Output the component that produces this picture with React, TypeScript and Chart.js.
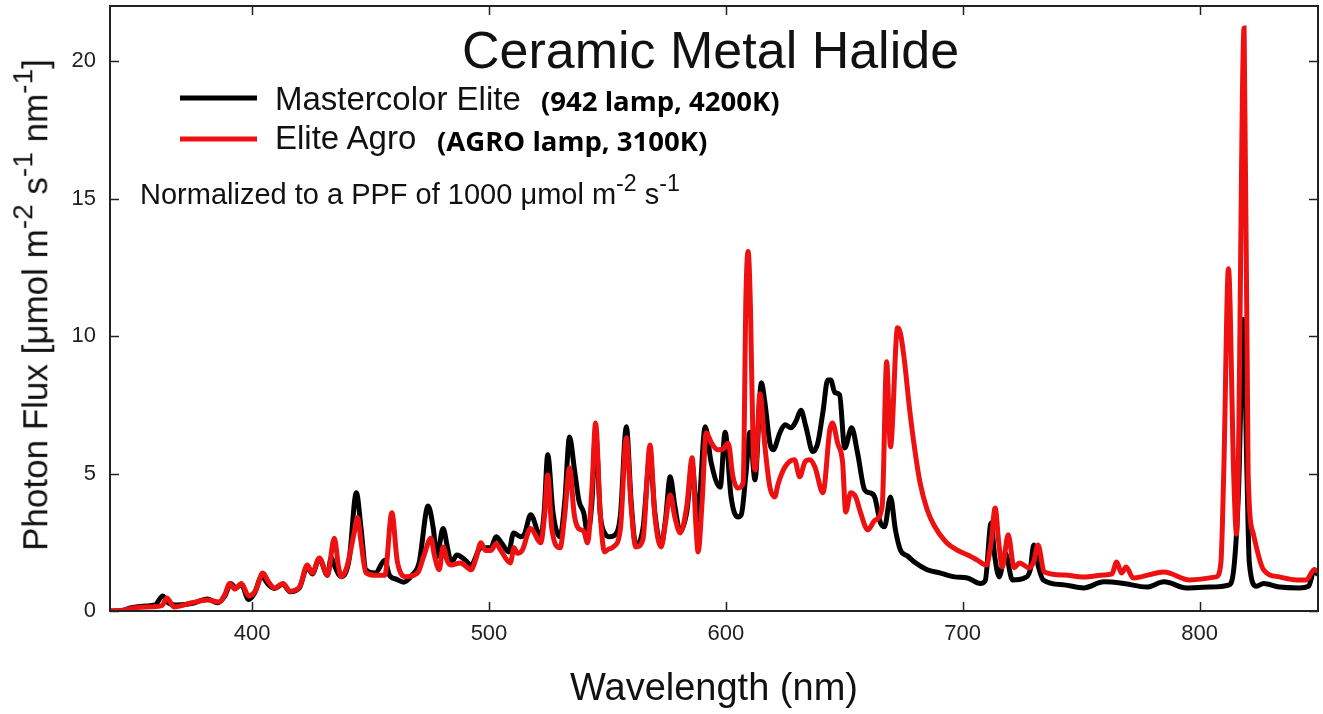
import React, { useEffect, useRef } from "react";
import { Chart, registerables } from "chart.js";

Chart.register(...registerables);

// ---------- DATA ----------
const chartTitle = "Ceramic Metal Halide";
const seriesNames = ["Mastercolor Elite", "Elite Agro"];
const seriesNotes = ["(942 lamp, 4200K)", "(AGRO lamp, 3100K)"];
const xAxisTitle = "Wavelength (nm)";
const yAxisTitleParts = ["Photon Flux [\u03bcmol m", "-2", " s", "-1", " nm", "-1", "]"];
const xTickValues = [400, 500, 600, 700, 800];
const yTickValues = [0, 5, 10, 15, 20];
const xRange = [340, 850];
const yRange = [0, 22];

// Mastercolor Elite (black)
const blackWl = [
  340, 345, 349, 355, 359, 362.3, 364.5, 368.6, 375, 381, 385.5, 388.5, 391, 393, 395.5, 398.5,
  401, 404, 407, 409.5, 413, 416, 420, 423.3, 425.4, 428.4, 431.8, 433.4, 435, 437.6, 441, 444,
  446, 448, 452, 456, 458, 461, 464, 467.5, 470.5, 474.3, 476.5, 478, 480.6, 482.5, 484, 486.5,
  490, 492.4, 496.6, 500.8, 503, 505.5, 508.3, 510.4, 513.4, 515, 517.6, 521.8, 523.3, 524.8,
  527, 530, 532, 534, 536, 538, 540, 541.6, 543.5, 545, 547, 548.8, 551, 553, 555.5, 558, 560,
  562, 565, 568, 570, 572.7, 574.5, 576.5, 578.5, 580.7, 583.5, 585.8, 588, 591.3, 593.8, 597.6,
  599.7, 602.2, 605, 606.5, 608.5, 610.2, 612.3, 615, 616.5, 618.6, 620, 622.8, 625, 627.5,
  629.6, 631.7, 633.8, 636.7, 638.8, 641, 643, 644.3, 646, 648, 650.2, 653.1, 655.6, 658.6,
  660.7, 662.8, 665.3, 667, 669.5, 671.6, 673.7, 676.7, 679.6, 685, 690.6, 696.5, 702, 707.4,
  709.5, 712, 713.5, 715.4, 718, 721, 726, 728.5, 730, 732, 734, 742.8, 751, 759.6, 768, 777.7,
  785, 794.5, 804, 812.6, 814.7, 816.5, 818.5, 820, 821, 824, 827, 833.7, 842, 846, 848.5, 850,
];
const blackVal = [
  0.0, 0.02, 0.12, 0.18, 0.22, 0.55, 0.3, 0.22, 0.28, 0.44, 0.3, 0.55, 1.0, 0.85, 0.95, 0.42,
  0.65, 1.25, 0.95, 0.82, 0.98, 0.7, 0.85, 1.6, 1.35, 1.9, 1.3, 1.95, 1.6, 1.25, 1.9, 4.3,
  3.0, 1.5, 1.38, 1.85, 1.3, 1.15, 1.05, 1.3, 1.75, 3.82, 3.0, 1.97, 3.0, 2.3, 1.75, 2.04,
  1.85, 1.67, 2.3, 2.3, 2.7, 2.45, 2.15, 2.84, 2.7, 2.8, 3.5, 2.7, 3.6, 5.68,
  3.6, 2.7, 4.0, 6.33, 5.2, 4.0, 3.57, 2.84, 4.0, 6.5, 3.5, 2.84, 2.7, 2.75, 3.5, 6.7, 4.0,
  2.4, 3.0, 5.6, 3.6, 2.4, 3.3, 4.88, 3.8, 2.9, 3.6, 5.3, 3.3, 6.7, 5.4, 4.5,
  6.5, 4.15, 3.42, 3.5, 5.0, 6.5, 4.77, 8.3, 7.57, 6.1, 5.86, 6.48, 6.77, 6.66,
  6.9, 7.3, 6.7, 5.8, 6.1, 7.24, 8.4, 8.4, 7.94, 7.86, 5.93, 6.66, 5.75, 4.4,
  4.3, 4.15, 3.2, 3.06, 4.15, 2.95, 2.22, 2.0, 1.78, 1.5, 1.38, 1.24, 1.2, 1.0,
  1.1, 3.2, 2.0, 1.24, 2.1, 1.13, 1.2, 1.5, 2.4, 1.6, 1.13, 0.95, 0.84, 1.06, 1.0, 0.87,
  1.06, 0.84, 0.87, 0.95, 1.75, 4.5, 10.6, 5.0, 1.75, 0.9, 1.0, 0.87, 0.84, 0.9, 1.5, 1.3,
];

// Elite Agro (red)
const redWl = [
  340, 346, 350.5, 358, 362, 364, 367, 374.5, 381.2, 386, 388.5, 390.5, 392.8, 395.5, 398.5,
  401.5, 404.5, 407, 409.5, 413, 416, 420, 423.3, 425.4, 428.4, 431.8, 434.7, 436.5, 437.6, 440,
  443, 444.5, 446, 448, 452, 456, 459, 461.3, 465, 470, 472.5, 475.5, 477, 479, 480.6, 482.5,
  484, 488, 492.4, 494.5, 496.6, 498.5, 500.8, 503, 505, 509, 510.6, 512, 514, 517.6, 521.8,
  523.5, 524.8, 526.5, 530, 532, 534, 536, 537.8, 540, 541.6, 543.5, 545, 547, 548.8, 550.5,
  552.5, 555.5, 558, 560, 562, 565, 568, 570, 572.7, 574.5, 576.5, 578.5, 580.7, 583.5, 585.8,
  587.3, 588.3, 590, 591.7, 594, 596.7, 599, 601, 603, 605, 607.3, 608.5, 609.4, 610.4, 611.5,
  612.5, 614.4, 616.5, 618.6, 620.7, 622, 625, 629, 631.2, 633.4, 635.4, 637.6, 641, 643.9, 645,
  647.2, 649.3, 650.6, 652.7, 654.8, 656.9, 659.9, 663, 666, 667.9, 669.5, 672.5, 673.7, 675.4,
  677.5, 679.6, 682, 685, 688, 693, 698, 703, 706, 710, 712, 713.7, 715.2, 716.7, 719.2, 721.7,
  724, 728, 730, 731.8, 734.4, 742.8, 751, 759.6, 763, 765, 767, 769, 772, 785, 795.8, 807,
  809, 810.2, 812.2, 814.4, 815.6, 816.3, 818.8, 820.5, 822.7, 827, 833.7, 841, 845, 848.4, 850,
];
const redVal = [
  0.0, 0.03, 0.12, 0.15, 0.2, 0.47, 0.15, 0.3, 0.4, 0.33, 0.6, 1.0, 0.8, 1.0, 0.55,
  0.75, 1.38, 1.05, 0.84, 1.0, 0.72, 0.87, 1.67, 1.38, 1.93, 1.3, 2.65, 1.6, 1.25, 1.6,
  2.8, 3.4, 2.5, 1.4, 1.3, 1.3, 3.57, 1.8, 1.25, 1.4, 2.0, 2.65, 2.0, 1.5, 2.33, 1.8,
  1.67, 1.75, 1.5, 1.9, 2.48, 2.2, 2.2, 2.45, 2.2, 1.75, 2.3, 2.1, 2.2, 3.0, 2.48,
  3.5, 4.95, 3.0, 2.3, 3.5, 5.2, 3.5, 3.0, 2.9, 2.48, 4.5, 6.84, 3.5, 2.15, 2.25,
  2.33, 3.0, 6.3, 3.8, 2.33, 2.6, 6.04, 3.5, 2.33, 3.2, 4.22, 3.4, 2.84, 3.8, 5.57,
  3.2, 2.15, 4.0, 6.48, 6.1, 5.86, 5.9, 6.1, 4.88, 4.47, 4.66, 11.5, 13.07, 11.0, 6.0,
  5.13, 7.9, 5.97, 4.5, 4.15, 4.6, 5.24, 5.5, 4.88, 5.42, 5.5, 5.24, 4.3, 6.6, 6.84,
  6.1, 5.4, 3.6, 4.3, 4.15, 3.57, 2.95, 3.3, 3.8, 9.06, 5.97, 10.3, 10.1, 9.1,
  7.4, 5.97, 4.66, 3.68, 3.1, 2.5, 2.2, 2.0, 1.86, 1.67, 2.5, 3.75, 2.5, 1.6, 2.77, 1.57,
  1.75, 1.57, 1.8, 2.4, 1.42, 1.31, 1.24, 1.31, 1.35, 1.78, 1.38, 1.6, 1.2, 1.42, 1.13, 1.24,
  1.75, 5.0, 12.45, 5.0, 2.8, 5.0, 21.2, 5.0, 2.8, 1.5, 1.24, 1.13, 1.13, 1.5, 1.45,
];

const BLACK = "#000000";
const RED = "#ee1111";
const AXIS = "#222222";

const toPoints = (xs: number[], ys: number[]) => xs.map((x, i) => ({ x, y: ys[i] }));

const framePlugin = {
  id: "frame",
  afterDatasetsDraw(chart: any) {
    const { ctx, chartArea: a, scales } = chart;
    ctx.save();
    ctx.strokeStyle = AXIS;
    ctx.lineWidth = 2;
    ctx.strokeRect(a.left, a.top, a.right - a.left, a.bottom - a.top);
    const L = 9;
    ctx.lineWidth = 1.5;
    ctx.beginPath();
    scales.x.ticks.forEach((t: any) => {
      const px = Math.round(scales.x.getPixelForValue(t.value)) + 0.5;
      ctx.moveTo(px, a.bottom);
      ctx.lineTo(px, a.bottom - L);
      ctx.moveTo(px, a.top);
      ctx.lineTo(px, a.top + L);
    });
    scales.y.ticks.forEach((t: any) => {
      const py = Math.round(scales.y.getPixelForValue(t.value)) + 0.5;
      ctx.moveTo(a.left, py);
      ctx.lineTo(a.left + L, py);
      ctx.moveTo(a.right, py);
      ctx.lineTo(a.right - L, py);
    });
    ctx.stroke();
    // legend swatches
    ctx.lineWidth = 5;
    ctx.lineCap = "butt";
    ctx.strokeStyle = BLACK;
    ctx.beginPath();
    ctx.moveTo(180, 98);
    ctx.lineTo(257, 98);
    ctx.stroke();
    ctx.strokeStyle = RED;
    ctx.beginPath();
    ctx.moveTo(180, 139);
    ctx.lineTo(257, 139);
    ctx.stroke();
    ctx.restore();
  },
};

export default function App() {
  const canvasRef = useRef<HTMLCanvasElement | null>(null);

  useEffect(() => {
    if (!canvasRef.current) return;
    const chart = new Chart(canvasRef.current, {
      type: "line",
      data: {
        datasets: [
          {
            label: seriesNames[1],
            data: toPoints(redWl, redVal),
            borderColor: RED,
            borderWidth: 5,
            pointRadius: 0,
            cubicInterpolationMode: "monotone",
            order: 0,
          },
          {
            label: seriesNames[0],
            data: toPoints(blackWl, blackVal),
            borderColor: BLACK,
            borderWidth: 5,
            pointRadius: 0,
            cubicInterpolationMode: "monotone",
            order: 1,
          },
        ],
      },
      options: {
        animation: false,
        responsive: false,
        parsing: false as any,
        layout: { padding: { left: 0, top: 6, right: 5, bottom: 0 } },
        plugins: { legend: { display: false }, tooltip: { enabled: false } },
        scales: {
          x: {
            type: "linear",
            min: xRange[0],
            max: xRange[1],
            afterBuildTicks: (s: any) => {
              s.ticks = xTickValues.map((v) => ({ value: v }));
            },
            afterFit: (s: any) => {
              s.height = 103;
              s.paddingLeft = 0;
              s.paddingRight = 0;
            },
            grid: { display: false, drawTicks: false },
            border: { display: false },
            ticks: {
              padding: 10,
              color: AXIS,
              font: { family: "'Liberation Sans', Arial, sans-serif", size: 22 },
              maxRotation: 0,
            },
            title: {
              display: true,
              text: xAxisTitle,
              color: "#111",
              font: { family: "'Liberation Sans', Arial, sans-serif", size: 38 },
              padding: { top: 0, bottom: 2 },
            },
          },
          y: {
            type: "linear",
            min: yRange[0],
            max: yRange[1],
            afterBuildTicks: (s: any) => {
              s.ticks = yTickValues.map((v) => ({ value: v }));
            },
            afterFit: (s: any) => {
              s.width = 110;
              s.paddingTop = 0;
              s.paddingBottom = 0;
            },
            grid: { display: false, drawTicks: false },
            border: { display: false },
            ticks: {
              padding: 14,
              color: AXIS,
              font: { family: "'Liberation Sans', Arial, sans-serif", size: 22 },
            },
            title: { display: false },
          },
        },
      },
      plugins: [framePlugin],
    });
    return () => chart.destroy();
  }, []);

  const sans = "'Liberation Sans', Arial, sans-serif";
  const bold = "'Open Sans', sans-serif";
  const abs = (extra: React.CSSProperties): React.CSSProperties => ({
    position: "absolute",
    whiteSpace: "nowrap",
    lineHeight: 1,
    color: "#111",
    ...extra,
  });
  const sup: React.CSSProperties = { fontSize: "0.8em", verticalAlign: "0.55em" };

  return (
    <div style={{ position: "fixed", left: 0, top: 0, width: 1323, height: 714, background: "#fff" }}>
      <canvas ref={canvasRef} width={1323} height={714} style={{ display: "block" }} />
      <div style={abs({ left: 462, top: 24, fontFamily: sans, fontSize: 52 })}>{chartTitle}</div>
      <div style={abs({ left: 275, top: 82, fontFamily: sans, fontSize: 33 })}>{seriesNames[0]}</div>
      <div style={abs({ left: 541, top: 87, fontFamily: bold, fontWeight: 700, fontSize: 27.5, color: "#000" })}>
        {seriesNotes[0]}
      </div>
      <div style={abs({ left: 275, top: 121, fontFamily: sans, fontSize: 33 })}>{seriesNames[1]}</div>
      <div style={abs({ left: 437, top: 127, fontFamily: bold, fontWeight: 700, fontSize: 27.5, color: "#000" })}>
        {seriesNotes[1]}
      </div>
      <div style={abs({ left: 140, top: 172, fontFamily: sans, fontSize: 29 })}>
        Normalized to a PPF of 1000 {"\u03bc"}mol m<span style={sup}>-2</span> s<span style={sup}>-1</span>
      </div>
      <div
        style={abs({
          left: 31,
          top: 305,
          fontFamily: sans,
          fontSize: 35,
          transform: "translate(-50%, -50%) rotate(-90deg)",
        })}
      >
        {yAxisTitleParts[0]}
        <span style={sup}>{yAxisTitleParts[1]}</span>
        {yAxisTitleParts[2]}
        <span style={sup}>{yAxisTitleParts[3]}</span>
        {yAxisTitleParts[4]}
        <span style={sup}>{yAxisTitleParts[5]}</span>
        {yAxisTitleParts[6]}
      </div>
    </div>
  );
}
